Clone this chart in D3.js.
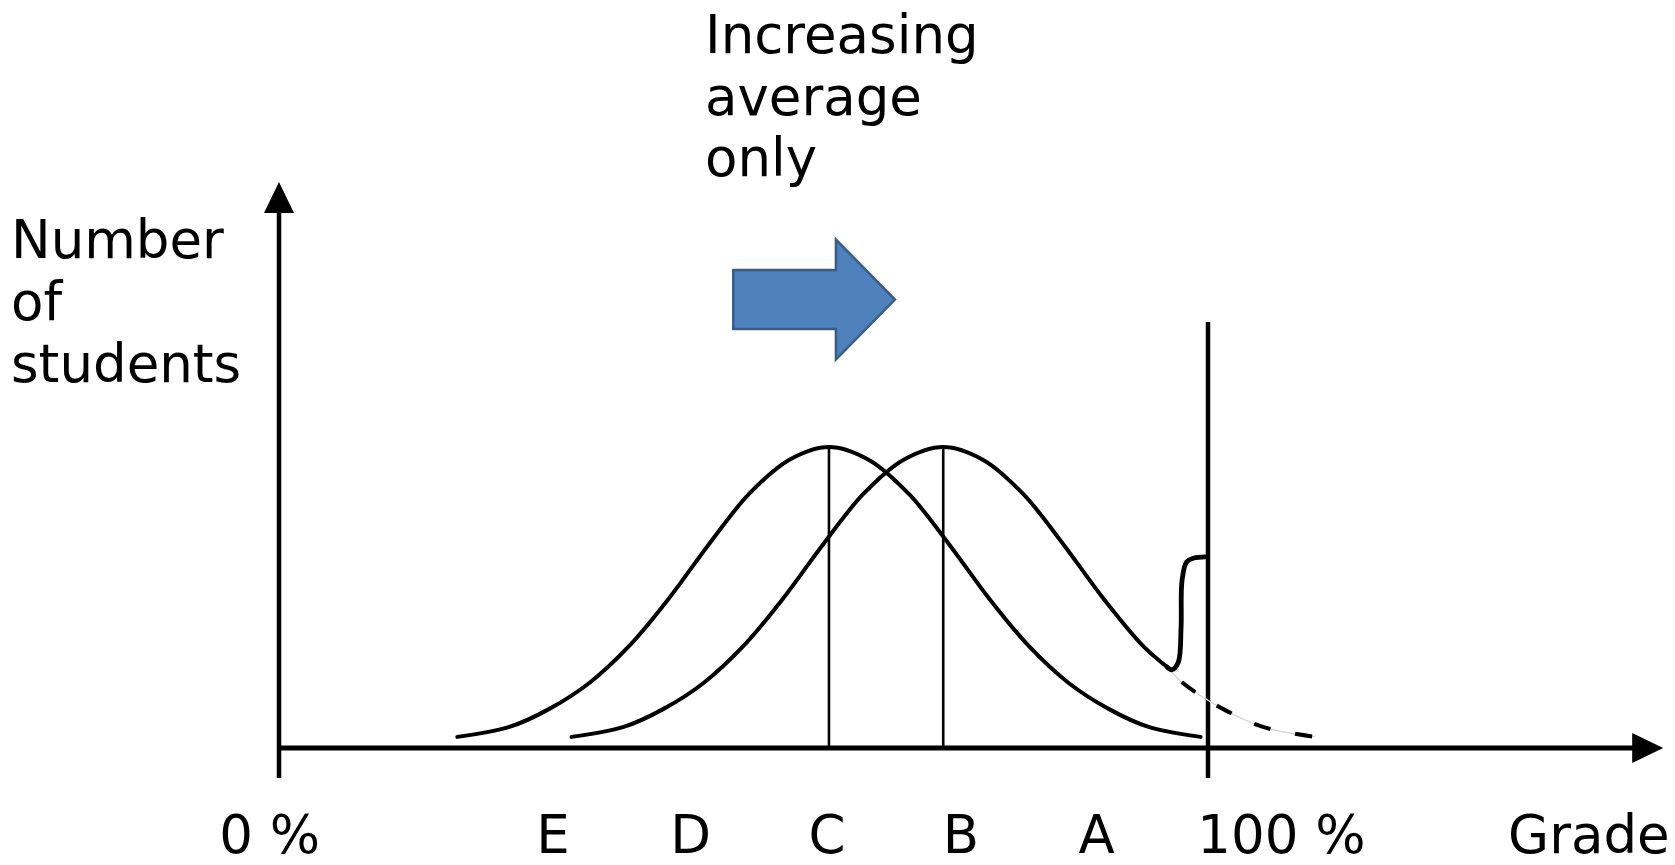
<!DOCTYPE html>
<html>
<head>
<meta charset="utf-8">
<script src="https://cdn.jsdelivr.net/npm/d3@7"></script>
<style>
  html, body { margin: 0; padding: 0; background: #ffffff; }
  svg { display: block; }
  text { font-family: "DejaVu Sans", Verdana, sans-serif; fill: #000; }
</style>
</head>
<body>
<svg id="chart" width="1675" height="865"></svg>
<script>
// ---------------- data ----------------
// grade in %, count in arbitrary units (peak = 100)
const curveC = [
  [19.2, 3.7], [24.8, 7.0], [29.1, 13.0], [33.4, 21.6], [37.7, 33.9],
  [42.0, 49.8], [46.3, 67.8], [50.6, 84.4], [54.9, 95.7], [59.2, 100],
  [63.5, 95.7], [67.8, 84.4], [72.1, 67.8], [76.4, 49.8], [80.7, 33.9],
  [85.0, 21.6], [89.3, 13.0], [93.6, 7.0], [99.2, 3.7]
];
const curveB = [
  [31.5, 3.7], [37.1, 7.0], [41.4, 13.0], [45.7, 21.6], [50.0, 33.9],
  [54.3, 49.8], [58.6, 67.8], [62.9, 84.4], [67.2, 95.7], [71.5, 100],
  [75.8, 95.7], [80.1, 84.4], [84.4, 67.8], [88.7, 49.8], [93.0, 33.9],
  [95.6, 26.9]
];
const curveBTail = [
  [95.6, 26.9], [97.3, 21.6], [101.6, 13.0], [105.9, 7.0], [111.5, 3.7]
];
const spike = [
  [95.6, 26.9], [96.1, 26.0], [96.8, 28.5], [97.1, 40], [97.2, 55.5],
  [97.7, 61.8], [98.5, 63.1], [99.7, 63.5]
];
const means = [59.2, 71.5];
const tickLabels = ["0 %", "E", "D", "C", "B", "A", "100 %", "Grade"];
const tickGrades = [-1.0, 29.5, 44.3, 59.0, 73.4, 88.0, 107.9, 141.0];
const yTitleLines = ["Number", "of", "students"];
const noteLines = ["Increasing", "average", "only"];
const shiftArrow = { from: 48.9, to: 66.3, level: 149 };
const axisExtent = { xMax: 149, yMax: 188, yMin: -10, limitTop: 141.5 };

// ---------------- scales ----------------
const x = d3.scaleLinear().domain([0, 100]).range([279, 1208]);
const y = d3.scaleLinear().domain([0, 100]).range([748, 447]);

const svg = d3.select("#chart");
const line = d3.line().x(d => x(d[0])).y(d => y(d[1])).curve(d3.curveCatmullRom.alpha(0.5));

// ---------------- axes ----------------
svg.append("line")
  .attr("x1", x(0)).attr("x2", x(0))
  .attr("y1", y(axisExtent.yMin)).attr("y2", y(axisExtent.yMax) + 25)
  .attr("stroke", "#000").attr("stroke-width", 4.5);
svg.append("path")
  .attr("d", `M${x(0)},${y(axisExtent.yMax)} L${x(0) - 15},${y(axisExtent.yMax) + 31} L${x(0) + 15},${y(axisExtent.yMax) + 31} Z`)
  .attr("fill", "#000");
svg.append("line")
  .attr("x1", x(0) - 2).attr("x2", x(axisExtent.xMax) - 25)
  .attr("y1", y(0)).attr("y2", y(0))
  .attr("stroke", "#000").attr("stroke-width", 5);
svg.append("path")
  .attr("d", `M${x(axisExtent.xMax)},${y(0)} L${x(axisExtent.xMax) - 31},${y(0) - 15} L${x(axisExtent.xMax) - 31},${y(0) + 15} Z`)
  .attr("fill", "#000");
svg.append("line")
  .attr("x1", x(100)).attr("x2", x(100))
  .attr("y1", y(axisExtent.yMin)).attr("y2", y(axisExtent.limitTop))
  .attr("stroke", "#000").attr("stroke-width", 4.5);

// ---------------- mean lines ----------------
svg.selectAll("line.mean").data(means).enter().append("line")
  .attr("class", "mean")
  .attr("x1", d => x(d)).attr("x2", d => x(d))
  .attr("y1", y(100)).attr("y2", y(0))
  .attr("stroke", "#000").attr("stroke-width", 2.6);

// ---------------- curves ----------------
svg.append("path").attr("d", line(curveC))
  .attr("fill", "none").attr("stroke", "#000").attr("stroke-width", 4).attr("stroke-linecap", "round");
svg.append("path").attr("d", line(curveB))
  .attr("fill", "none").attr("stroke", "#000").attr("stroke-width", 4).attr("stroke-linecap", "round");
svg.append("path").attr("d", line(curveBTail))
  .attr("fill", "none").attr("stroke", "#d8d8d8").attr("stroke-width", 1.5);
svg.append("path").attr("d", line(curveBTail))
  .attr("fill", "none").attr("stroke", "#000").attr("stroke-width", 4)
  .attr("stroke-dasharray", "17 25").attr("stroke-dashoffset", 21);
svg.append("path").attr("d", line(spike))
  .attr("fill", "none").attr("stroke", "#000").attr("stroke-width", 4.8)
  .attr("stroke-linecap", "round").attr("stroke-linejoin", "round");

// ---------------- shift arrow ----------------
const ax0 = x(shiftArrow.from), ax1 = x(shiftArrow.to), ay = y(shiftArrow.level);
const headLen = 59, bodyHalf = 29.5, headHalf = 60;
svg.append("path")
  .attr("d", `M${ax0},${ay - bodyHalf} L${ax1 - headLen},${ay - bodyHalf} L${ax1 - headLen},${ay - headHalf} L${ax1},${ay} L${ax1 - headLen},${ay + headHalf} L${ax1 - headLen},${ay + bodyHalf} L${ax0},${ay + bodyHalf} Z`)
  .attr("fill", "#4F81BD").attr("stroke", "#385D8A").attr("stroke-width", 2.5).attr("stroke-linejoin", "miter");

// ---------------- text ----------------
svg.selectAll("text.tick").data(tickLabels).enter().append("text")
  .attr("class", "tick")
  .attr("x", (d, i) => x(tickGrades[i]))
  .attr("y", 853)
  .attr("text-anchor", "middle")
  .attr("font-size", 53)
  .text(d => d);

svg.selectAll("text.ytitle").data(yTitleLines).enter().append("text")
  .attr("class", "ytitle")
  .attr("x", 11)
  .attr("y", (d, i) => 258 + i * 62)
  .attr("font-size", 53)
  .text(d => d);

svg.selectAll("text.note").data(noteLines).enter().append("text")
  .attr("class", "note")
  .attr("x", 705)
  .attr("y", (d, i) => 53 + i * 61.5)
  .attr("font-size", 53)
  .text(d => d);
</script>
</body>
</html>
